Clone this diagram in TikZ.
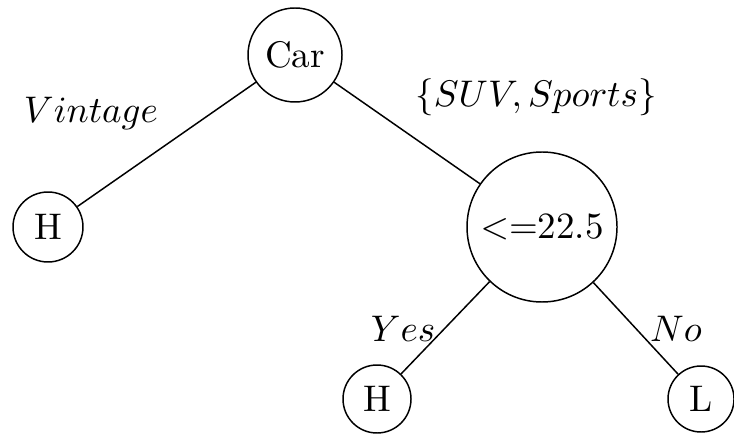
\documentclass[tikz,border=0pt]{standalone}
\begin{document}
\begin{tikzpicture}[x=0.27pt,y=-0.27pt,
  nd/.style={draw,circle,inner sep=0pt,line width=0.4pt},
  lbl/.style={anchor=base,inner sep=0pt}]
\useasboundingbox (0,0) rectangle (734,436);
\node[nd,minimum size=94*0.27pt] (car) at (295,55) {Car};
\node[nd,minimum size=70*0.27pt] (h1) at (48,227) {H};
\node[nd,minimum size=150*0.27pt] (t) at (542,227) {$<=$22.5};
\node[nd,minimum size=68*0.27pt] (h2) at (377,399) {H};
\node[nd,minimum size=66*0.27pt] (l) at (701,399) {L};
\draw (car) -- (h1);
\draw (car) -- (t);
\draw (t) -- (h2);
\draw (t) -- (l);
\node[lbl] (v) at (91,123) {$Vintage$};
\node[lbl] (s) at (536,107) {$\{SUV,Sports\}$};
\node[lbl] (y) at (403,341) {$Yes$};
\node[lbl] (n) at (676,341) {$No$};
\end{tikzpicture}
\end{document}
